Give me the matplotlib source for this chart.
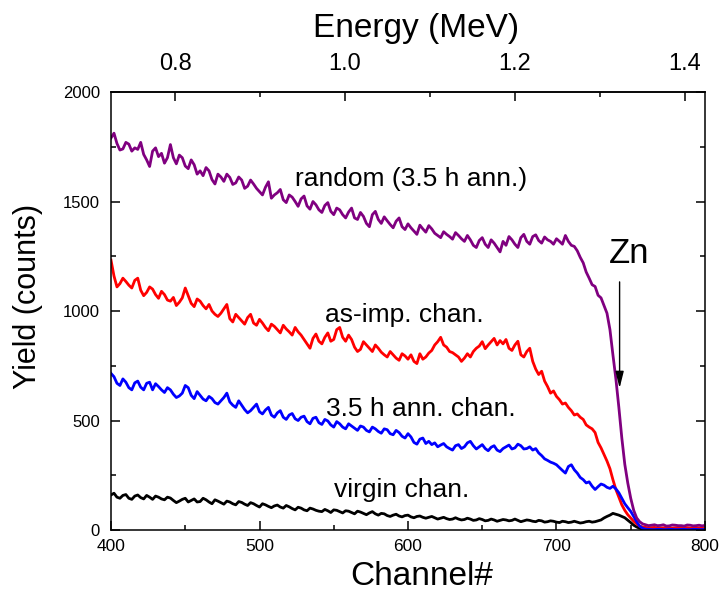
import numpy as np
import matplotlib
matplotlib.use("Agg")
import matplotlib.pyplot as plt
from matplotlib.ticker import MultipleLocator, FixedLocator, FormatStrFormatter

plt.rcParams["font.family"] = ["Liberation Sans", "DejaVu Sans"]

# ---------------- RBS spectra ----------------
# counts on even channels 400, 404, ... 800 and in-between channels 402, 406, ... 798
channel = np.arange(400, 801, 2)

random_ann = [
    1790, 1765, 1740, 1762, 1745, 1770, 1690, 1730, 1705, 1675,
    1760, 1672, 1700, 1650, 1668, 1640, 1655, 1600, 1625, 1592,
    1610, 1585, 1598, 1570, 1580, 1545, 1565, 1515, 1540, 1508,
    1530, 1500, 1512, 1480, 1500, 1462, 1482, 1455, 1470, 1440,
    1452, 1425, 1450, 1400, 1440, 1418, 1430, 1395, 1410, 1385,
    1398, 1365, 1392, 1360, 1375, 1345, 1362, 1340, 1358, 1330,
    1345, 1300, 1322, 1305, 1325, 1290, 1318, 1340, 1305, 1335,
    1318, 1340, 1322, 1338, 1318, 1330, 1305, 1318, 1295, 1245,
    1178, 1120, 1072, 1025, 915, 690, 420, 215, 90, 38,
    24, 22, 20, 24, 19, 22, 20, 23, 19, 22, 21,
]
random_ann_mid = [
    1812, 1735, 1770, 1730, 1738, 1715, 1660, 1745, 1720, 1700,
    1700, 1712, 1662, 1690, 1625, 1618, 1640, 1580, 1612, 1625,
    1578, 1612, 1560, 1598, 1560, 1530, 1590, 1530, 1555, 1495,
    1520, 1478, 1525, 1465, 1485, 1450, 1495, 1440, 1462, 1425,
    1470, 1418, 1432, 1385, 1455, 1400, 1412, 1380, 1425, 1372,
    1380, 1350, 1375, 1390, 1355, 1335, 1350, 1328, 1345, 1318,
    1325, 1290, 1335, 1290, 1310, 1270, 1300, 1325, 1290, 1350,
    1305, 1348, 1310, 1325, 1305, 1318, 1345, 1300, 1275, 1220,
    1150, 1112, 1060, 990, 800, 560, 300, 145, 55, 28,
    20, 24, 21, 18, 23, 20, 18, 22, 20, 19,
]

as_imp = [
    1232, 1110, 1150, 1118, 1140, 1095, 1085, 1100, 1058, 1075,
    1045, 1025, 1060, 1070, 1020, 1045, 1010, 1000, 975, 1010,
    965, 985, 955, 970, 945, 962, 925, 940, 915, 935,
    905, 925, 890, 850, 875, 862, 880, 862, 915, 880,
    890, 835, 825, 845, 815, 830, 800, 815, 785, 805,
    780, 770, 805, 790, 820, 860, 845, 815, 800, 770,
    805, 815, 840, 828, 860, 845, 850, 830, 845, 800,
    815, 770, 710, 680, 625, 610, 575, 560, 525, 515,
    480, 462, 400, 345, 280, 185, 115, 70, 40, 18,
    12, 11, 9, 10, 8, 10, 9, 11, 8, 10, 9,
]
as_imp_mid = [
    1160, 1125, 1135, 1105, 1150, 1070, 1110, 1075, 1090, 1050,
    1062, 1040, 1105, 1035, 1055, 1025, 1030, 985, 990, 1030,
    950, 970, 940, 985, 935, 945, 910, 930, 900, 918,
    890, 905, 870, 830, 895, 850, 900, 870, 925, 862,
    870, 815, 860, 830, 845, 812, 790, 800, 775, 795,
    800, 760, 780, 808, 845, 880, 835, 810, 790, 785,
    790, 830, 860, 845, 875, 865, 870, 820, 862, 790,
    830, 735, 725, 655, 635, 595, 580, 545, 530, 505,
    470, 445, 375, 315, 230, 150, 90, 55, 28, 14,
    10, 12, 9, 11, 9, 11, 10, 9, 11, 10,
]

ann_chan = [
    715, 670, 690, 650, 672, 652, 670, 640, 655, 628,
    640, 605, 625, 650, 600, 615, 590, 600, 575, 605,
    585, 560, 570, 535, 560, 540, 548, 525, 535, 515,
    525, 508, 515, 495, 510, 490, 505, 480, 495, 470,
    485, 465, 475, 455, 470, 450, 462, 440, 455, 428,
    440, 400, 415, 395, 390, 380, 395, 372, 385, 372,
    398, 385, 380, 372, 378, 365, 372, 388, 375, 385,
    372, 365, 352, 325, 310, 298, 272, 290, 275, 240,
    215, 200, 198, 205, 190, 188, 145, 102, 62, 18,
    4, 2, 3, 2, 3, 2, 3, 2, 3, 2, 3,
]
ann_chan_mid = [
    700, 660, 675, 640, 680, 640, 675, 668, 640, 650,
    620, 612, 660, 615, 632, 598, 610, 582, 590, 625,
    570, 590, 550, 545, 575, 530, 560, 515, 545, 505,
    532, 500, 520, 485, 515, 482, 498, 470, 485, 462,
    475, 455, 470, 448, 462, 442, 458, 435, 445, 420,
    425, 392, 420, 405, 398, 388, 380, 365, 390, 380,
    405, 370, 390, 362, 385, 358, 380, 370, 392, 370,
    380, 372, 340, 318, 305, 285, 260, 298, 260, 230,
    220, 185, 210, 195, 200, 170, 120, 85, 38, 8,
    3, 2, 3, 2, 3, 2, 3, 2, 3, 2,
]

virgin = [
    160, 150, 158, 145, 155, 148, 158, 140, 150, 138,
    146, 125, 140, 128, 142, 130, 138, 120, 132, 118,
    128, 115, 126, 112, 120, 105, 115, 102, 114, 100,
    106, 92, 100, 88, 96, 86, 94, 80, 90, 78,
    86, 74, 82, 70, 84, 68, 74, 62, 72, 60,
    68, 56, 64, 54, 62, 50, 58, 48, 56, 46,
    54, 44, 52, 42, 50, 40, 48, 42, 50, 38,
    46, 40, 44, 36, 42, 36, 40, 34, 40, 32,
    38, 36, 42, 55, 68, 72, 62, 45, 22, 8,
    2, 1, 1, 1, 1, 1, 1, 1, 1, 1, 1,
]
virgin_mid = [
    168, 145, 162, 140, 160, 142, 150, 155, 142, 150,
    135, 132, 145, 135, 128, 145, 128, 138, 125, 132,
    120, 130, 118, 125, 112, 120, 108, 110, 105, 112,
    98, 104, 92, 100, 90, 84, 88, 92, 84, 88,
    80, 86, 76, 78, 74, 76, 66, 68, 64, 66,
    60, 62, 58, 58, 56, 54, 52, 50, 50, 48,
    50, 46, 48, 44, 46, 44, 46, 44, 44, 42,
    44, 38, 42, 38, 40, 34, 38, 36, 36, 34,
    40, 38, 46, 62, 76, 68, 56, 34, 14, 4,
    1, 1, 1, 1, 1, 1, 1, 1, 1, 1,
]


def merge(even, mid):
    y = np.empty(len(even) + len(mid))
    y[0::2] = even
    y[1::2] = mid
    return y


# channel -> energy calibration (MeV)
e_offset = 0.026
e_slope = 0.0017467


def ch2e(ch):
    return e_offset + e_slope * np.asarray(ch)


def e2ch(e):
    return (np.asarray(e) - e_offset) / e_slope


# ---------------- Figure ----------------
fig = plt.figure(figsize=(7.19, 6.01), dpi=100)
ax = fig.add_axes([0.1544, 0.1181, 0.8261, 0.7288])

lw = 2.0
ax.plot(channel, merge(virgin, virgin_mid), color="black", lw=lw)
ax.plot(channel, merge(as_imp, as_imp_mid), color="#ff0000", lw=lw)
ax.plot(channel, merge(ann_chan, ann_chan_mid), color="#0000ff", lw=lw)
ax.plot(channel, merge(random_ann, random_ann_mid), color="#800080", lw=lw)

ax.set_xlim(400, 800)
ax.set_ylim(0, 2000)

ax.xaxis.set_major_locator(MultipleLocator(100))
ax.xaxis.set_minor_locator(MultipleLocator(50))
ax.yaxis.set_major_locator(MultipleLocator(500))
ax.yaxis.set_minor_locator(MultipleLocator(250))

ax.tick_params(which="both", direction="in", width=1.1, right=True, top=False)
ax.tick_params(which="major", length=6.5)
ax.tick_params(which="minor", length=3.5)
ax.tick_params(axis="x", labelsize=12.5, pad=6.5)
ax.tick_params(axis="y", labelsize=12, pad=8)
for s in ax.spines.values():
    s.set_linewidth(1.1)

# energy scale on top
sec = ax.secondary_xaxis("top", functions=(ch2e, e2ch))
sec.xaxis.set_major_locator(FixedLocator([0.8, 1.0, 1.2, 1.4]))
sec.xaxis.set_minor_locator(FixedLocator([0.9, 1.1, 1.3]))
sec.xaxis.set_major_formatter(FormatStrFormatter("%.1f"))
sec.tick_params(which="both", direction="in", width=1.1, labelsize=17, pad=12)
sec.tick_params(which="major", length=6.5)
sec.tick_params(which="minor", length=3.5)
sec.spines["top"].set_linewidth(1.1)

# axis titles
fig.text(421.5 / 719, 1 - 585 / 601, "Channel#", fontsize=24, ha="center", va="baseline")
fig.text(416 / 719, 1 - 37 / 601, "Energy (MeV)", fontsize=24, ha="center", va="baseline")
fig.text(28 / 719, 1 - 296 / 601, "Yield (counts)", fontsize=22, rotation=90,
         ha="center", va="center")

# curve labels
ax.text(524, 1571, "random (3.5 h ann.)", fontsize=19, va="baseline")
ax.text(544, 951, "as-imp. chan.", fontsize=19, va="baseline")
ax.text(545, 522, "3.5 h ann. chan.", fontsize=19, va="baseline")
ax.text(550, 152, "virgin chan.", fontsize=19, va="baseline")

# Zn surface edge marker
ax.text(735, 1219, "Zn", fontsize=25, va="baseline")
ax.annotate("", xy=(742.5, 648), xytext=(742.5, 1133),
            arrowprops=dict(arrowstyle="-|>,head_length=1.0,head_width=0.25",
                            mutation_scale=10, lw=1, color="black",
                            shrinkA=0, shrinkB=0))

fig.savefig("out.png", dpi=100)
